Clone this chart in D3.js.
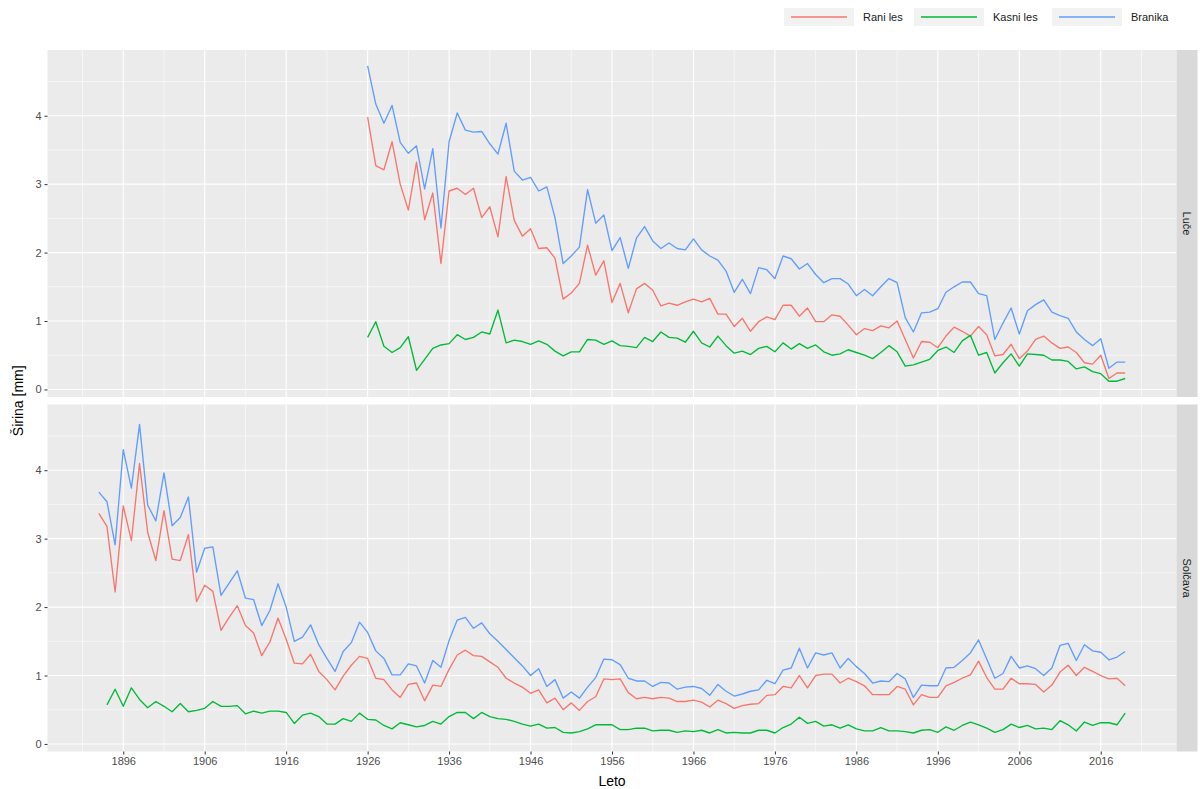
<!DOCTYPE html>
<html lang="sl">
<head>
<meta charset="UTF-8">
<title>Širina branik</title>
<script src="https://d3js.org/d3.v7.min.js"></script>
<style>
  body { margin: 0; background: #fff; }
  svg text { font-family: "Liberation Sans", Arial, Helvetica, sans-serif; }
</style>
</head>
<body>
<svg id="chart" width="1200" height="789"></svg>
<script>
// --- data (mm) ---
const seriesNames = ["Rani les", "Kasni les", "Branika"];
const seriesColors = ["#F8766D", "#00BA38", "#619CFF"];
const facetNames = ["Luče", "Solčava"];
const xTicks = [1896, 1906, 1916, 1926, 1936, 1946, 1956, 1966, 1976, 1986, 1996, 2006, 2016];
const yTicks = [0, 1, 2, 3, 4];

// Luče, 1926-2019
const luceStart = 1926;
const luceRani = [3.98, 3.27, 3.21, 3.62, 3.00, 2.62, 3.32, 2.48, 2.87, 1.84, 2.90, 2.94, 2.85, 2.94, 2.51, 2.67, 2.23, 3.11, 2.47, 2.24, 2.35, 2.06, 2.07, 1.92,
  1.32, 1.41, 1.55, 2.11, 1.67, 1.88, 1.27, 1.55, 1.12, 1.47, 1.55, 1.45, 1.22, 1.26, 1.23, 1.28, 1.32, 1.28, 1.33, 1.10, 1.10, 0.92, 1.04,
  0.85, 0.99, 1.06, 1.02, 1.23, 1.23, 1.07, 1.19, 0.99, 0.99, 1.09, 1.07, 0.94, 0.80, 0.89, 0.86, 0.93, 0.90, 1.00, 0.73, 0.46, 0.70, 0.69, 0.61,
  0.78, 0.91, 0.85, 0.78, 0.92, 0.80, 0.49, 0.51, 0.66, 0.45, 0.56, 0.73, 0.78, 0.68, 0.60, 0.62, 0.54, 0.39, 0.37, 0.50, 0.16, 0.24, 0.24];
const luceKasni = [0.76, 0.99, 0.63, 0.54, 0.61, 0.77, 0.28, 0.44, 0.60, 0.65, 0.67, 0.80, 0.73, 0.76, 0.84, 0.81, 1.16, 0.68, 0.72, 0.70, 0.66, 0.71, 0.66, 0.56,
  0.49, 0.55, 0.55, 0.73, 0.72, 0.66, 0.71, 0.64, 0.63, 0.61, 0.76, 0.70, 0.84, 0.76, 0.75, 0.69, 0.85, 0.68, 0.62, 0.78, 0.64, 0.53, 0.56,
  0.51, 0.60, 0.63, 0.55, 0.68, 0.59, 0.67, 0.60, 0.65, 0.55, 0.50, 0.52, 0.58, 0.54, 0.50, 0.45, 0.54, 0.64, 0.55, 0.34, 0.36, 0.40, 0.44, 0.57,
  0.62, 0.54, 0.71, 0.79, 0.50, 0.54, 0.24, 0.39, 0.52, 0.34, 0.52, 0.51, 0.50, 0.43, 0.43, 0.41, 0.30, 0.33, 0.26, 0.23, 0.12, 0.12, 0.16];
const luceBranika = [4.73, 4.17, 3.89, 4.15, 3.61, 3.45, 3.56, 2.93, 3.52, 2.36, 3.62, 4.04, 3.79, 3.76, 3.77, 3.59, 3.44, 3.89, 3.19, 3.06, 3.10, 2.90, 2.96, 2.51,
  1.84, 1.95, 2.08, 2.92, 2.43, 2.55, 2.03, 2.22, 1.77, 2.21, 2.38, 2.17, 2.06, 2.14, 2.06, 2.04, 2.20, 2.04, 1.95, 1.89, 1.73, 1.42, 1.61,
  1.40, 1.78, 1.75, 1.62, 1.95, 1.91, 1.76, 1.84, 1.68, 1.56, 1.62, 1.62, 1.54, 1.37, 1.46, 1.37, 1.50, 1.62, 1.56, 1.05, 0.84, 1.12, 1.13, 1.18,
  1.42, 1.50, 1.57, 1.57, 1.40, 1.37, 0.73, 0.97, 1.19, 0.81, 1.15, 1.24, 1.31, 1.13, 1.08, 1.04, 0.84, 0.73, 0.64, 0.74, 0.31, 0.40, 0.40];

// Solčava, rani les and branika 1893-2019, kasni les 1894-2019
const solcavaStart = 1893;
const solcavaKasniStart = 1894;
const solcavaRani = [3.37, 3.18, 2.22, 3.48, 2.97, 4.10, 3.09, 2.68, 3.41, 2.70, 2.68, 3.06, 2.08, 2.32, 2.23, 1.66, 1.85, 2.02, 1.73, 1.62, 1.29, 1.49, 1.84,
  1.53, 1.18, 1.17, 1.31, 1.06, 0.94, 0.79, 0.99, 1.15, 1.28, 1.25, 0.96, 0.94, 0.79, 0.68, 0.87, 0.89, 0.63, 0.86, 0.84, 1.09, 1.30, 1.37, 1.29,
  1.28, 1.20, 1.12, 0.96, 0.89, 0.83, 0.74, 0.79, 0.60, 0.67, 0.50, 0.60, 0.49, 0.62, 0.69, 0.95, 0.94, 0.95, 0.75, 0.66, 0.68, 0.66, 0.68, 0.67,
  0.62, 0.62, 0.64, 0.61, 0.54, 0.64, 0.59, 0.52, 0.56, 0.58, 0.59, 0.71, 0.72, 0.84, 0.82, 1.00, 0.82, 1.00, 1.02, 1.02, 0.89, 0.96,
  0.91, 0.85, 0.72, 0.72, 0.72, 0.84, 0.80, 0.57, 0.72, 0.68, 0.68, 0.85, 0.90, 0.96, 1.01, 1.21, 0.97, 0.80, 0.80, 0.96, 0.88, 0.88, 0.87, 0.76,
  0.86, 1.05, 1.15, 1.00, 1.12, 1.06, 1.00, 0.95, 0.96, 0.85];
const solcavaKasni = [0.57, 0.80, 0.55, 0.82, 0.65, 0.53, 0.62, 0.55, 0.47, 0.59, 0.47, 0.49, 0.52, 0.62, 0.55, 0.55, 0.56, 0.44, 0.48, 0.45, 0.48, 0.48,
  0.46, 0.30, 0.42, 0.45, 0.40, 0.29, 0.29, 0.37, 0.33, 0.45, 0.36, 0.35, 0.27, 0.22, 0.31, 0.28, 0.25, 0.27, 0.33, 0.29, 0.40, 0.46, 0.46, 0.37,
  0.46, 0.40, 0.37, 0.36, 0.33, 0.29, 0.26, 0.29, 0.23, 0.24, 0.17, 0.16, 0.18, 0.22, 0.28, 0.28, 0.28, 0.21, 0.21, 0.23, 0.23, 0.19, 0.20, 0.20,
  0.17, 0.19, 0.18, 0.20, 0.16, 0.21, 0.16, 0.17, 0.16, 0.16, 0.20, 0.20, 0.16, 0.24, 0.29, 0.39, 0.30, 0.33, 0.26, 0.28, 0.23, 0.28,
  0.22, 0.19, 0.19, 0.24, 0.19, 0.19, 0.18, 0.16, 0.20, 0.21, 0.17, 0.25, 0.20, 0.27, 0.32, 0.28, 0.23, 0.17, 0.21, 0.29, 0.24, 0.27, 0.22, 0.23,
  0.21, 0.34, 0.28, 0.19, 0.32, 0.27, 0.31, 0.31, 0.28, 0.45];
const solcavaBranika = [3.68, 3.54, 2.91, 4.30, 3.74, 4.67, 3.49, 3.26, 3.96, 3.19, 3.31, 3.61, 2.51, 2.86, 2.88, 2.17, 2.35, 2.53, 2.13, 2.11, 1.73, 1.95, 2.34,
  2.00, 1.50, 1.56, 1.74, 1.45, 1.25, 1.06, 1.35, 1.48, 1.78, 1.63, 1.36, 1.25, 1.01, 1.01, 1.17, 1.14, 0.89, 1.22, 1.12, 1.51, 1.81, 1.85, 1.69,
  1.77, 1.61, 1.50, 1.38, 1.26, 1.14, 1.00, 1.10, 0.84, 0.94, 0.67, 0.76, 0.67, 0.83, 0.97, 1.24, 1.23, 1.16, 0.96, 0.92, 0.92, 0.84, 0.90, 0.89,
  0.80, 0.83, 0.84, 0.81, 0.71, 0.87, 0.77, 0.70, 0.73, 0.77, 0.79, 0.93, 0.88, 1.08, 1.11, 1.40, 1.11, 1.33, 1.30, 1.33, 1.11, 1.25,
  1.13, 1.03, 0.89, 0.92, 0.91, 1.03, 0.95, 0.68, 0.86, 0.85, 0.85, 1.11, 1.12, 1.22, 1.33, 1.52, 1.24, 0.96, 1.03, 1.28, 1.11, 1.14, 1.10, 1.00,
  1.11, 1.44, 1.47, 1.22, 1.45, 1.36, 1.34, 1.23, 1.27, 1.35];

// turn the arrays into {year, value} points
function toPoints(start, values) {
  return values.map((v, i) => ({ year: start + i, value: v }));
}

const facets = [
  { name: facetNames[0], series: [toPoints(luceStart, luceRani), toPoints(luceStart, luceKasni), toPoints(luceStart, luceBranika)] },
  { name: facetNames[1], series: [toPoints(solcavaStart, solcavaRani), toPoints(solcavaKasniStart, solcavaKasni), toPoints(solcavaStart, solcavaBranika)] }
];

// --- layout ---
const panelLeft = 47.5, panelRight = 1176.5;
const panelTops = [50, 404.5];
const panelHeight = 347;
const stripWidth = 21;

const allPoints = facets.flatMap(f => f.series.flat());
const xExt = d3.extent(allPoints, d => d.year);
const yExt = d3.extent(allPoints, d => d.value);
const xPad = (xExt[1] - xExt[0]) * 0.05;
const yPad = (yExt[1] - yExt[0]) * 0.05;

const x = d3.scaleLinear().domain([xExt[0] - xPad, xExt[1] + xPad]).range([panelLeft, panelRight]);

const svg = d3.select("#chart");
svg.append("rect").attr("width", 1200).attr("height", 789).attr("fill", "#ffffff");

const xMinor = d3.range(1891, 2025, 10);
const yMinor = [0.5, 1.5, 2.5, 3.5, 4.5];

facets.forEach((facet, fi) => {
  const top = panelTops[fi];
  const y = d3.scaleLinear().domain([yExt[0] - yPad, yExt[1] + yPad]).range([top + panelHeight, top]);
  const g = svg.append("g");

  // panel background
  g.append("rect")
    .attr("x", panelLeft).attr("y", top)
    .attr("width", panelRight - panelLeft).attr("height", panelHeight)
    .attr("fill", "#ebebeb");

  // minor grid
  g.selectAll(".xminor").data(xMinor).enter().append("line")
    .attr("x1", d => x(d)).attr("x2", d => x(d))
    .attr("y1", top).attr("y2", top + panelHeight)
    .attr("stroke", "#fff").attr("stroke-width", 0.55);
  g.selectAll(".yminor").data(yMinor).enter().append("line")
    .attr("x1", panelLeft).attr("x2", panelRight)
    .attr("y1", d => y(d)).attr("y2", d => y(d))
    .attr("stroke", "#fff").attr("stroke-width", 0.55);

  // major grid
  g.selectAll(".xmajor").data(xTicks).enter().append("line")
    .attr("x1", d => x(d)).attr("x2", d => x(d))
    .attr("y1", top).attr("y2", top + panelHeight)
    .attr("stroke", "#fff").attr("stroke-width", 1.1);
  g.selectAll(".ymajor").data(yTicks).enter().append("line")
    .attr("x1", panelLeft).attr("x2", panelRight)
    .attr("y1", d => y(d)).attr("y2", d => y(d))
    .attr("stroke", "#fff").attr("stroke-width", 1.1);

  // lines
  const line = d3.line().x(d => x(d.year)).y(d => y(d.value));
  facet.series.forEach((pts, si) => {
    g.append("path")
      .datum(pts)
      .attr("d", line)
      .attr("fill", "none")
      .attr("stroke", seriesColors[si])
      .attr("stroke-width", 1.35)
      .attr("stroke-linejoin", "round");
  });

  // y axis
  const yAxis = g.append("g")
    .attr("transform", `translate(${panelLeft},0)`)
    .call(d3.axisLeft(y).tickValues(yTicks).tickFormat(d3.format("d")).tickSize(3).tickPadding(3));
  yAxis.select(".domain").remove();
  yAxis.selectAll("line").attr("stroke", "#333333");
  yAxis.selectAll("text").attr("fill", "#4d4d4d").style("font-size", "11px");

  // strip on the right
  g.append("rect")
    .attr("x", panelRight).attr("y", top)
    .attr("width", stripWidth).attr("height", panelHeight)
    .attr("fill", "#d9d9d9");
  g.append("text")
    .attr("transform", `translate(${panelRight + stripWidth / 2},${top + panelHeight / 2}) rotate(90)`)
    .attr("text-anchor", "middle")
    .attr("dy", "0.35em")
    .attr("fill", "#1a1a1a")
    .style("font-size", "11px")
    .text(facet.name);
});

// x axis under the lower panel
const xAxis = svg.append("g")
  .attr("transform", `translate(0,${panelTops[1] + panelHeight})`)
  .call(d3.axisBottom(x).tickValues(xTicks).tickFormat(d3.format("d")).tickSize(3).tickPadding(3));
xAxis.select(".domain").remove();
xAxis.selectAll("line").attr("stroke", "#333333");
xAxis.selectAll("text").attr("fill", "#4d4d4d").style("font-size", "11px");

// axis titles
svg.append("text")
  .attr("x", (panelLeft + panelRight) / 2).attr("y", 786)
  .attr("text-anchor", "middle")
  .style("font-size", "14px")
  .text("Leto");
svg.append("text")
  .attr("transform", `translate(23,${(panelTops[0] + panelTops[1] + panelHeight) / 2}) rotate(-90)`)
  .attr("text-anchor", "middle")
  .style("font-size", "14px")
  .text("Širina [mm]");

// legend (top right)
const legendKeys = [784, 914, 1052];
const legend = svg.append("g");
seriesNames.forEach((name, i) => {
  const kx = legendKeys[i];
  legend.append("rect")
    .attr("x", kx).attr("y", 8).attr("width", 70).attr("height", 18)
    .attr("fill", "#f2f2f2");
  legend.append("line")
    .attr("x1", kx + 7).attr("x2", kx + 63)
    .attr("y1", 17).attr("y2", 17)
    .attr("stroke", seriesColors[i]).attr("stroke-width", 1.35);
  legend.append("text")
    .attr("x", kx + 79).attr("y", 17)
    .attr("dy", "0.35em")
    .attr("fill", "#1a1a1a")
    .style("font-size", "11px")
    .text(name);
});
</script>
</body>
</html>
